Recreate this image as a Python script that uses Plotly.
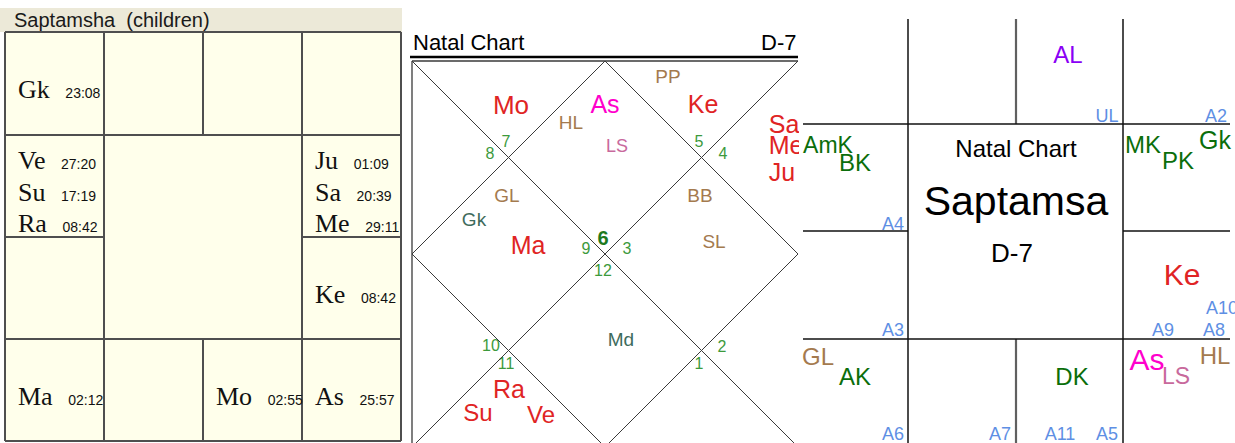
import plotly.graph_objects as go

W, H = 1235, 443
SANS = "Liberation Sans, Arial, sans-serif"
SERIF = "Liberation Serif, Times New Roman, serif"

# ---------------- DATA ----------------
# Panel 1: Saptamsha table (South Indian layout), planet, sign, degree
P1_TITLE = "Saptamsha  (children)"
P1_PLANETS = ["Gk", "Ve", "Su", "Ra", "Ju", "Sa", "Me", "Ke", "Ma", "Mo", "As"]
P1_SIGNS = [12, 11, 11, 11, 4, 4, 4, 5, 9, 7, 6]
P1_DEGREES = ["23:08", "27:20", "17:19", "08:42", "01:09", "20:39", "29:11",
              "08:42", "02:12", "02:55", "25:57"]

# Panel 2: North Indian natal chart D-7
P2_TITLE = "Natal Chart"
P2_DIVISION = "D-7"
P2_HOUSE_SIGNS = [6, 7, 8, 9, 10, 11, 12, 1, 2, 3, 4, 5]   # house 1..12
P2_LABELS = ["PP", "Mo", "As", "Ke", "HL", "LS", "Sa", "Me", "Ju",
             "GL", "Gk", "Ma", "BB", "SL", "Md", "Ra", "Su", "Ve"]
P2_KINDS = ["special", "planet", "lagna", "planet", "special", "ls", "planet", "planet", "planet",
            "special", "upa", "planet", "special", "special", "upa", "planet", "planet", "planet"]

# Panel 3: South Indian natal chart with arudhas / karakas
P3_TITLE = ["Natal Chart", "Saptamsa", "D-7"]
P3_LABELS = ["AL", "UL", "A2", "AmK", "BK", "MK", "PK", "Gk", "A4", "Ke", "A10",
             "A3", "A9", "A8", "GL", "AK", "DK", "As", "LS", "HL", "A6", "A7", "A11", "A5"]
P3_KINDS = ["al", "arudha", "arudha", "karaka", "karaka", "karaka", "karaka", "karaka", "arudha",
            "planet", "arudha", "arudha", "arudha", "arudha", "special", "karaka", "karaka",
            "lagna", "ls", "special", "arudha", "arudha", "arudha", "arudha"]

# ---------------- STYLE / LAYOUT ----------------
KIND_COLOR = {"planet": "#E02424", "lagna": "#FF00CC", "special": "#A47A4E", "ls": "#C8699C",
              "upa": "#3E6B5C", "karaka": "#0B6E0B", "arudha": "#5E8FE4", "al": "#8A00F5"}

SOUTH_CELL = {12: (0, 0), 1: (0, 1), 2: (0, 2), 3: (0, 3), 4: (1, 3), 5: (2, 3),
              6: (3, 3), 7: (3, 2), 8: (3, 1), 9: (3, 0), 10: (2, 0), 11: (1, 0)}

P1_XE = [5, 104, 203, 302, 401]
P1_YE = [32, 135, 237, 339, 441]

P2_BOX = (412, 61, 798, 447)
P2_POS = {"PP": (668, 78, 19), "Mo": (511, 107, 26), "As": (605, 107, 25), "Ke": (703, 107, 25),
          "HL": (571, 124, 19), "LS": (617, 147, 18), "Sa": (784, 127, 25), "Me": (786, 148, 25),
          "Ju": (782, 175, 25), "GL": (507, 197, 19), "Gk": (474, 221, 19), "Ma": (528, 248, 25),
          "BB": (700, 197, 19), "SL": (714, 243, 19), "Md": (621, 341, 19), "Ra": (509, 392, 25),
          "Su": (478, 415, 24), "Ve": (541, 417, 24)}
P2_NUM_POS = [(603, 240), (506, 143), (490, 155), (586, 250), (491, 347), (506, 365),
              (603, 272), (699, 365), (722, 348), (627, 250), (723, 155), (699, 143)]

P3_XE = [801, 908, 1016, 1123, 1230]
P3_YE = [19, 124, 231, 339, 446]
P3_POS = {"AL": (1068, 57, 24), "UL": (1107, 117, 18), "A2": (1216, 117, 18), "AmK": (828, 147, 23),
          "BK": (855, 165, 24), "MK": (1143, 147, 24), "PK": (1178, 163, 24), "Gk": (1215, 143, 25),
          "A4": (893, 225, 18), "Ke": (1182, 277, 30), "A10": (1222, 309, 18), "A3": (893, 331, 18),
          "A9": (1163, 331, 18), "A8": (1214, 331, 18), "GL": (818, 359, 24), "AK": (855, 379, 24),
          "DK": (1072, 379, 24), "As": (1147, 362, 30), "LS": (1176, 378, 23), "HL": (1215, 358, 24),
          "A6": (893, 435, 18), "A7": (1000, 435, 18), "A11": (1060, 435, 18), "A5": (1107, 435, 18)}

fig = go.Figure()
shapes = []
annotations = []


def line(x0, y0, x1, y1, ref, color, width):
    shapes.append(dict(type="line", xref="x" + ref, yref="y" + ref, x0=x0, y0=y0, x1=x1, y1=y1,
                       line=dict(color=color, width=width), layer="above"))


# ---------------- PANEL 1 ----------------
shapes.append(dict(type="rect", xref="x", yref="y", x0=0, y0=8, x1=402, y1=32,
                   fillcolor="#ECE9D8", line=dict(width=0), layer="below"))
shapes.append(dict(type="rect", xref="x", yref="y", x0=P1_XE[0], y0=P1_YE[0], x1=P1_XE[4], y1=P1_YE[4],
                   fillcolor="#FFFFEB", line=dict(width=0), layer="below"))
G1 = "#4F4F4F"
for xv in [P1_XE[0], P1_XE[1], P1_XE[3], P1_XE[4]]:
    line(xv, P1_YE[0], xv, P1_YE[4], "", G1, 2)
line(P1_XE[2], P1_YE[0], P1_XE[2], P1_YE[1], "", G1, 2)
line(P1_XE[2], P1_YE[3], P1_XE[2], P1_YE[4], "", G1, 2)
for yv in [P1_YE[0], P1_YE[1], P1_YE[3], P1_YE[4]]:
    line(P1_XE[0], yv, P1_XE[4], yv, "", G1, 2)
line(P1_XE[0], P1_YE[2], P1_XE[1], P1_YE[2], "", G1, 2)
line(P1_XE[3], P1_YE[2], P1_XE[4], P1_YE[2], "", G1, 2)

annotations.append(dict(xref="x", yref="y", x=12, y=20, xanchor="left", yanchor="middle",
                        text=P1_TITLE, showarrow=False, font=dict(family=SANS, size=20, color="#1A1A1A")))

cell_items = {}
for p, s, d in zip(P1_PLANETS, P1_SIGNS, P1_DEGREES):
    cell_items.setdefault(SOUTH_CELL[s], []).append((p, d))
for (r, c), items in cell_items.items():
    n = len(items)
    cy = (P1_YE[r] + P1_YE[r + 1]) / 2
    for i, (p, d) in enumerate(items):
        y = cy + 6 + (i - (n - 1) / 2) * 31.5
        annotations.append(dict(
            xref="x", yref="y", x=P1_XE[c] + 11, y=y, xanchor="left", yanchor="middle", showarrow=False,
            text=f"<span style='font-family:{SERIF};font-size:26px'>{p}</span>&nbsp;&nbsp;&nbsp;&nbsp;{d}",
            font=dict(family=SANS, size=14, color="#111111")))

# ---------------- PANEL 2 ----------------
bx0, by0, bx1, by1 = P2_BOX
mx, my = (bx0 + bx1) / 2, (by0 + by1) / 2
L2 = "#3A3A3A"
line(410, 57, 798, 57, "2", "#000000", 2.5)
line(bx0, by0, bx1, by0, "2", L2, 1.3)
line(bx0, by0, bx0, by1, "2", L2, 1.3)
line(bx0, by0, bx1, by1, "2", L2, 1)
line(bx1, by0, bx0, by1, "2", L2, 1)
line(mx, by0, bx1, my, "2", L2, 1)
line(bx1, my, mx, by1, "2", L2, 1)
line(mx, by1, bx0, my, "2", L2, 1)
line(bx0, my, mx, by0, "2", L2, 1)

annotations.append(dict(xref="x2", yref="y", x=411, y=42, xanchor="left", yanchor="middle",
                        text=P2_TITLE, showarrow=False, font=dict(family=SANS, size=22, color="#000")))
annotations.append(dict(xref="x2", yref="y", x=798, y=42, xanchor="right", yanchor="middle",
                        text=P2_DIVISION, showarrow=False, font=dict(family=SANS, size=22, color="#000")))

fig.add_trace(go.Scatter(
    x=[P2_NUM_POS[i][0] for i in range(12)], y=[P2_NUM_POS[i][1] for i in range(12)],
    text=[f"<b>{s}</b>" if i == 0 else str(s) for i, s in enumerate(P2_HOUSE_SIGNS)],
    mode="text", textposition="middle center", cliponaxis=True, hoverinfo="skip",
    textfont=dict(family=SANS, size=[20] + [16] * 11, color=["#1E7A1E"] + ["#3C9A3C"] * 11),
    xaxis="x2", yaxis="y2", showlegend=False))

fig.add_trace(go.Scatter(
    x=[P2_POS[l][0] for l in P2_LABELS], y=[P2_POS[l][1] for l in P2_LABELS], text=P2_LABELS,
    mode="text", textposition="middle center", cliponaxis=True, hoverinfo="skip",
    textfont=dict(family=SANS, size=[P2_POS[l][2] for l in P2_LABELS],
                  color=[KIND_COLOR[k] for k in P2_KINDS]),
    xaxis="x2", yaxis="y2", showlegend=False))

# ---------------- PANEL 3 ----------------
shapes.append(dict(type="rect", xref="x3", yref="y3", x0=799, y0=0, x1=1235, y1=443,
                   fillcolor="#FFFFFF", line=dict(width=0), layer="below"))
K3 = "#111111"
line(P3_XE[1], P3_YE[0], P3_XE[1], P3_YE[4], "3", K3, 1.5)
line(P3_XE[3], P3_YE[0], P3_XE[3], P3_YE[4], "3", K3, 1.5)
line(P3_XE[2], P3_YE[0], P3_XE[2], P3_YE[1], "3", "#606060", 2.2)
line(P3_XE[2], P3_YE[3], P3_XE[2], P3_YE[4], "3", "#606060", 2.2)
line(P3_XE[0] + 2, P3_YE[1], P3_XE[4], P3_YE[1], "3", K3, 1.5)
line(P3_XE[0] + 2, P3_YE[3], P3_XE[4], P3_YE[3], "3", K3, 1.5)
line(P3_XE[0] + 2, P3_YE[2], P3_XE[1], P3_YE[2], "3", K3, 1.5)
line(P3_XE[3], P3_YE[2], P3_XE[4], P3_YE[2], "3", K3, 1.5)

fig.add_trace(go.Scatter(
    x=[1016, 1016, 1012], y=[151, 205, 255], text=P3_TITLE,
    mode="text", textposition="middle center", cliponaxis=True, hoverinfo="skip",
    textfont=dict(family=SANS, size=[24, 41, 26], color="#000000"),
    xaxis="x3", yaxis="y3", showlegend=False))

fig.add_trace(go.Scatter(
    x=[P3_POS[l][0] for l in P3_LABELS], y=[P3_POS[l][1] for l in P3_LABELS], text=P3_LABELS,
    mode="text", textposition="middle center", cliponaxis=True, hoverinfo="skip",
    textfont=dict(family=SANS, size=[P3_POS[l][2] for l in P3_LABELS],
                  color=[KIND_COLOR[k] for k in P3_KINDS]),
    xaxis="x3", yaxis="y3", showlegend=False))

fig.add_trace(go.Scatter(x=[0], y=[0], mode="markers", marker=dict(opacity=0), hoverinfo="skip",
                         xaxis="x", yaxis="y", showlegend=False))

ax = dict(visible=False, fixedrange=True, showgrid=False, zeroline=False)
fig.update_layout(
    width=W, height=H, margin=dict(l=0, r=0, t=0, b=0),
    paper_bgcolor="#FFFFFF", plot_bgcolor="rgba(0,0,0,0)",
    xaxis=dict(ax, domain=[0, 405 / W], range=[0, 405], anchor="y"),
    yaxis=dict(ax, domain=[0, 1], range=[H, 0], anchor="x"),
    xaxis2=dict(ax, domain=[405 / W, 799 / W], range=[405, 799], anchor="y2"),
    yaxis2=dict(ax, domain=[0, 1], range=[H, 0], anchor="x2"),
    xaxis3=dict(ax, domain=[799 / W, 1], range=[799, 1235], anchor="y3"),
    yaxis3=dict(ax, domain=[0, 1], range=[H, 0], anchor="x3"),
    shapes=shapes, annotations=annotations, showlegend=False,
)
fig.write_html("out.html", config={"displayModeBar": False},
               post_script="document.body.style.margin='0';document.body.style.overflow='hidden';")
